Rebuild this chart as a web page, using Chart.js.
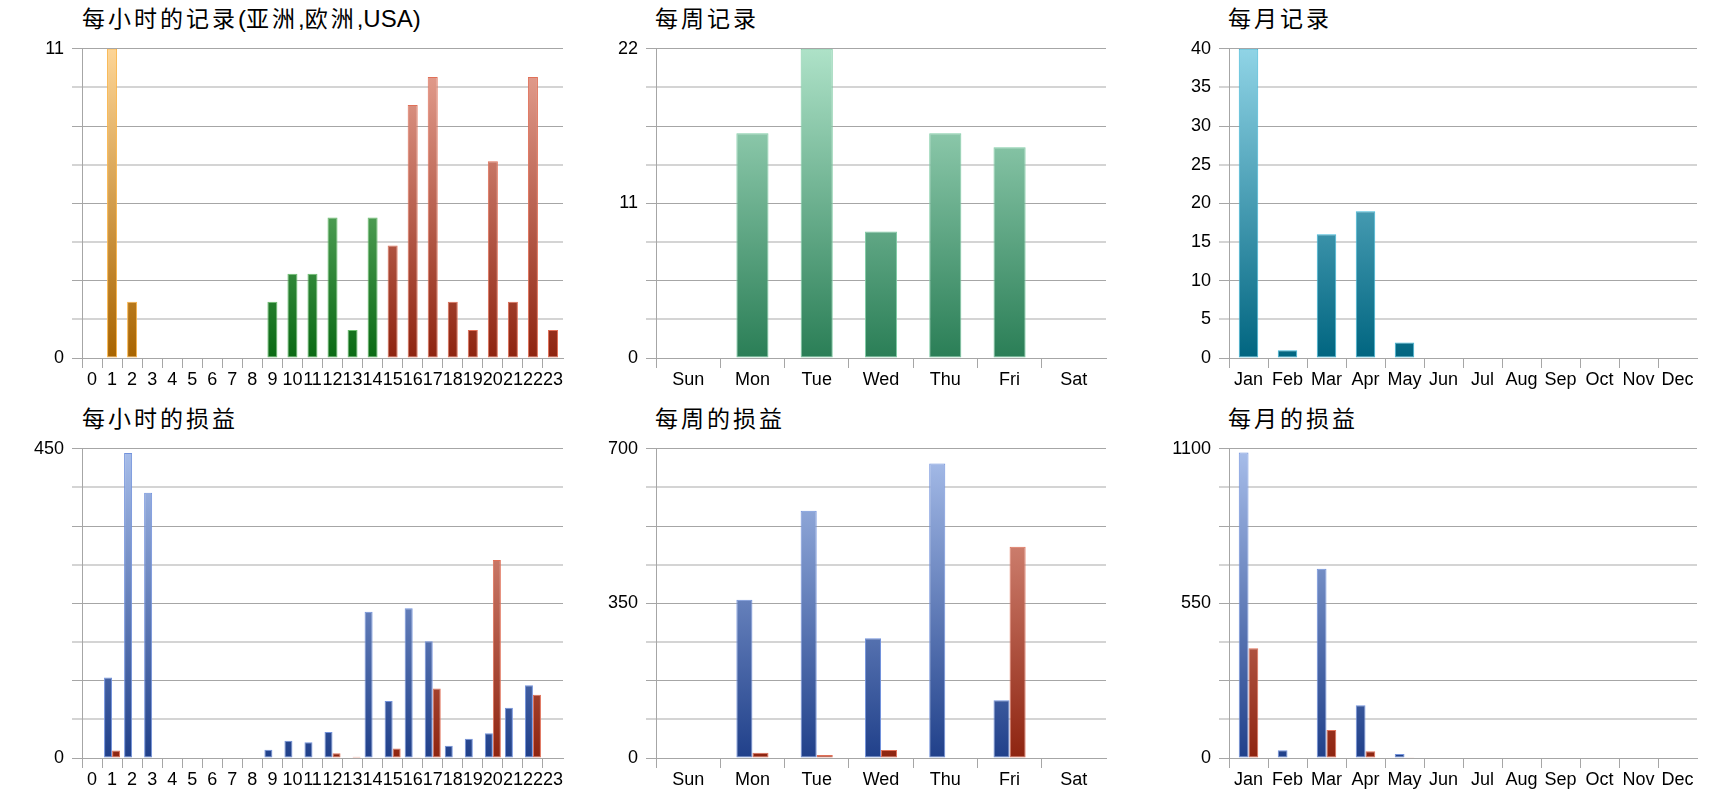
<!DOCTYPE html>
<html>
<head>
<meta charset="utf-8">
<script src="https://cdn.jsdelivr.net/npm/chart.js@4/dist/chart.umd.min.js"></script>
<style>
  body { margin: 0; background: #fff; width: 1720px; height: 800px; position: relative; overflow: hidden; }
  .title { position: absolute; font-family: "Liberation Sans", "Noto Sans CJK SC", sans-serif; font-size: 23px; letter-spacing: 3px; line-height: 30px; color: #000; white-space: nowrap; }
  .title .l { letter-spacing: 0; font-size: 24px; }
  .box { position: absolute; }
</style>
</head>
<body>
<div class="title" style="left:82px;top:4px">每小时的记录<span class="l">(</span>亚洲<span class="l">,</span>欧洲<span class="l">,USA)</span></div>
<div class="title" style="left:655px;top:4px">每周记录</div>
<div class="title" style="left:1228px;top:4px">每月记录</div>
<div class="title" style="left:82px;top:404px">每小时的损益</div>
<div class="title" style="left:655px;top:404px">每周的损益</div>
<div class="title" style="left:1228px;top:404px">每月的损益</div>

<div class="box" style="left:2px;top:30px"><canvas id="hourRec" width="571" height="368"></canvas></div>
<div class="box" style="left:576px;top:30px"><canvas id="weekRec" width="540" height="368"></canvas></div>
<div class="box" style="left:1149px;top:30px"><canvas id="monthRec" width="558" height="368"></canvas></div>
<div class="box" style="left:2px;top:430px"><canvas id="hourPnl" width="571" height="368"></canvas></div>
<div class="box" style="left:576px;top:430px"><canvas id="weekPnl" width="540" height="368"></canvas></div>
<div class="box" style="left:1149px;top:430px"><canvas id="monthPnl" width="558" height="368"></canvas></div>

<script>
// categories
const hours = ['0','1','2','3','4','5','6','7','8','9','10','11','12','13','14','15','16','17','18','19','20','21','22','23'];
const days = ['Sun', 'Mon', 'Tue', 'Wed', 'Thu', 'Fri', 'Sat'];
const months = ['Jan', 'Feb', 'Mar', 'Apr', 'May', 'Jun', 'Jul', 'Aug', 'Sep', 'Oct', 'Nov', 'Dec'];

// records per hour, split by region
const asiaRecords   = [0, 11, 2, 0, 0, 0, 0, 0, 0, null, null, null, null, null, null, null, null, null, null, null, null, null, null, null];
const europeRecords = [null, null, null, null, null, null, null, null, null, 2, 3, 3, 5, 1, 5, null, null, null, null, null, null, null, null, null];
const usaRecords    = [null, null, null, null, null, null, null, null, null, null, null, null, null, null, null, 4, 9, 10, 2, 1, 7, 2, 10, 1];
const weekRecords  = [0, 16, 22, 9, 16, 15, 0];
const monthRecords = [40, 1, 16, 19, 2, 0, 0, 0, 0, 0, 0, 0];

// profit / loss
const hourProfit  = [0, 117, 444, 386, 0, 0, 0, 0, 0, 12, 25, 23, 38, 0, 213, 83, 218, 170, 18, 28, 36, 73, 106, 0];
const hourLoss    = [0, 11, 0, 0, 0, 0, 0, 0, 0, 0, 0, 0, 7, 2, 0, 14, 1, 101, 0, 0, 288, 0, 92, 0];
const weekProfit  = [0, 358, 560, 271, 667, 131, 0];
const weekLoss    = [0, 12, 7, 18, 1, 478, 0];
const monthProfit = [1087, 28, 673, 188, 14, 0, 0, 0, 0, 0, 0, 0];
const monthLoss   = [390, 0, 100, 24, 3, 0, 0, 0, 0, 0, 0, 0];

// labelled y ticks (last one is the axis max)
const hourRecTicks  = [0, 11];
const weekRecTicks  = [0, 11, 22];
const monthRecTicks = [0, 5, 10, 15, 20, 25, 30, 35, 40];
const hourPnlTicks  = [0, 450];
const weekPnlTicks  = [0, 350, 700];
const monthPnlTicks = [0, 550, 1100];

Chart.defaults.font.family = '"Liberation Sans", Arial, sans-serif';
Chart.defaults.font.size = 18;
Chart.defaults.color = '#000';

function grad(top, bottom) {
  return (c) => {
    const area = c.chart.chartArea;
    if (!area) return bottom;
    const g = c.chart.ctx.createLinearGradient(0, area.top, 0, area.bottom);
    g.addColorStop(0, top);
    g.addColorStop(1, bottom);
    return g;
  };
}

const orange = { backgroundColor: grad('#fdd596', '#a86400'), borderColor: '#f9b44a' };
const green  = { backgroundColor: grad('#98d599', '#0a6a14'), borderColor: '#6cc070' };
const red    = { backgroundColor: grad('#e8a596', '#8e2410'), borderColor: '#e07058' };
const teal   = { backgroundColor: grad('#aee2c8', '#2a7e56'), borderColor: '#7fcca5' };
const cyan   = { backgroundColor: grad('#90d4e6', '#006580'), borderColor: '#3fb6d6' };
const blue   = { backgroundColor: grad('#a8beea', '#20408a'), borderColor: '#7292dc' };

function makeChart(id, labels, datasets, tickLabels, catPct, stacked) {
  const yMax = tickLabels[tickLabels.length - 1];
  datasets.forEach(d => { d.borderWidth = 1; d.borderSkipped = false; d.barPercentage = 1; d.categoryPercentage = catPct; });
  return new Chart(document.getElementById(id), {
    type: 'bar',
    data: { labels: labels, datasets: datasets },
    options: {
      responsive: false,
      animation: false,
      layout: { padding: { top: 12, right: 10, bottom: 0, left: 0 } },
      plugins: { legend: { display: false }, tooltip: { enabled: false } },
      scales: {
        x: {
          stacked: stacked,
          afterFit: (s) => { s.height = 40; },
          grid: {
            drawOnChartArea: false,
            tickLength: 10,
            tickColor: (c) => c.type === 'tick' ? '#a6a6a6' : 'rgba(0,0,0,0)'
          },
          border: { color: '#a6a6a6' },
          ticks: { autoSkip: false, maxRotation: 0, padding: 1 }
        },
        y: {
          stacked: stacked,
          min: 0,
          max: yMax,
          afterFit: (s) => { s.width = 80; },
          afterBuildTicks: (s) => {
            s.ticks = [0, 1, 2, 3, 4, 5, 6, 7, 8].map(i => ({ value: i * yMax / 8 }));
          },
          grid: {
            tickLength: 10,
            color: (c) => c.index % 2 ? '#d4d4d4' : '#a6a6a6',
            lineWidth: (c) => c.index % 2 ? 2 : 1
          },
          border: { color: '#a6a6a6' },
          ticks: {
            padding: 8,
            callback: (v) => tickLabels.includes(v) ? String(v) : ''
          }
        }
      }
    }
  });
}

makeChart('hourRec', hours, [
  Object.assign({ label: '亚洲', data: asiaRecords }, orange),
  Object.assign({ label: '欧洲', data: europeRecords }, green),
  Object.assign({ label: 'USA', data: usaRecords }, red)
], hourRecTicks, 0.5, true);

makeChart('weekRec', days, [
  Object.assign({ label: '记录', data: weekRecords }, teal)
], weekRecTicks, 0.5, false);

makeChart('monthRec', months, [
  Object.assign({ label: '记录', data: monthRecords }, cyan)
], monthRecTicks, 0.5, false);

makeChart('hourPnl', hours, [
  Object.assign({ label: '盈利', data: hourProfit }, blue),
  Object.assign({ label: '亏损', data: hourLoss }, red)
], hourPnlTicks, 0.8, false);

makeChart('weekPnl', days, [
  Object.assign({ label: '盈利', data: weekProfit }, blue),
  Object.assign({ label: '亏损', data: weekLoss }, red)
], weekPnlTicks, 0.5, false);

makeChart('monthPnl', months, [
  Object.assign({ label: '盈利', data: monthProfit }, blue),
  Object.assign({ label: '亏损', data: monthLoss }, red)
], monthPnlTicks, 0.5, false);
</script>
</body>
</html>
